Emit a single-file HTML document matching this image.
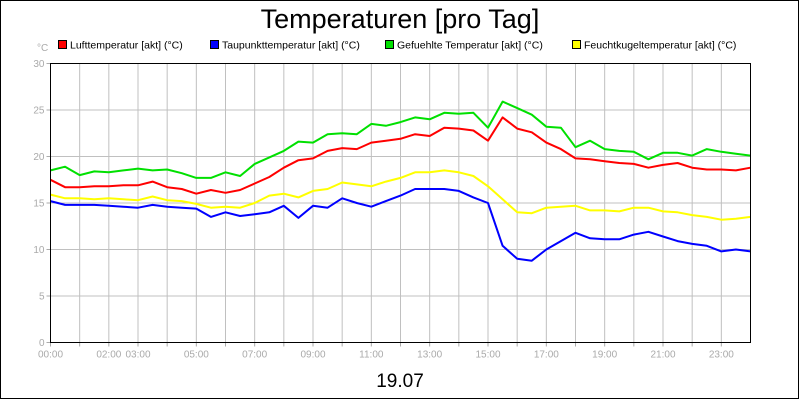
<!DOCTYPE html>
<html><head><meta charset="utf-8"><style>
html,body{margin:0;padding:0;background:#fff}
#wrap{position:relative;width:800px;height:400px;overflow:hidden}
svg text{font-family:"Liberation Sans",sans-serif}
</style></head><body>
<div id="wrap">
<svg id="c" width="800" height="400" xmlns="http://www.w3.org/2000/svg">
<rect x="0.5" y="0.5" width="798" height="398" fill="#fff" stroke="#000"/>
<text x="400" y="28" font-size="27" text-anchor="middle" fill="#000">Temperaturen [pro Tag]</text>
<text x="400" y="387" font-size="19" text-anchor="middle" fill="#000">19.07</text>
<text x="37" y="51" font-size="10" fill="#aaa">°C</text>
<g id="legend"></g>
<g id="grid"></g>
<g id="series"></g>
<g id="axes"></g>
</svg>
</div>
<script>
const hours = [];
for (let i = 0; i <= 48; i++) hours.push(i / 2);
const yTicks = [0, 5, 10, 15, 20, 25, 30];
const xTickLabels = ["00:00","","02:00","03:00","","05:00","","07:00","","09:00","","11:00","","13:00","","15:00","","17:00","","19:00","","21:00","","23:00"];
const seriesNames = ["Lufttemperatur [akt] (°C)","Taupunkttemperatur [akt] (°C)","Gefuehlte Temperatur [akt] (°C)","Feuchtkugeltemperatur [akt] (°C)"];
const seriesColors = ["#ff0000","#0000ff","#00e000","#ffff00"];
const luft = [17.5,16.7,16.7,16.8,16.8,16.9,16.9,17.3,16.7,16.5,16.0,16.4,16.1,16.4,17.1,17.8,18.8,19.6,19.8,20.6,20.9,20.8,21.5,21.7,21.9,22.4,22.2,23.1,23.0,22.8,21.7,24.2,23.0,22.6,21.5,20.8,19.8,19.7,19.5,19.3,19.2,18.8,19.1,19.3,18.8,18.6,18.6,18.5,18.8];
const taupunkt = [15.2,14.8,14.8,14.8,14.7,14.6,14.5,14.8,14.6,14.5,14.4,13.5,14.0,13.6,13.8,14.0,14.7,13.4,14.7,14.5,15.5,15.0,14.6,15.2,15.8,16.5,16.5,16.5,16.3,15.6,15.0,10.4,9.0,8.8,10.0,10.9,11.8,11.2,11.1,11.1,11.6,11.9,11.4,10.9,10.6,10.4,9.8,10.0,9.8];
const gefuehlt = [18.5,18.9,18.0,18.4,18.3,18.5,18.7,18.5,18.6,18.2,17.7,17.7,18.3,17.9,19.2,19.9,20.6,21.6,21.5,22.4,22.5,22.4,23.5,23.3,23.7,24.2,24.0,24.7,24.6,24.7,23.1,25.9,25.2,24.5,23.2,23.1,21.0,21.7,20.8,20.6,20.5,19.7,20.4,20.4,20.1,20.8,20.5,20.3,20.1];
const feucht = [15.9,15.5,15.5,15.4,15.5,15.4,15.3,15.7,15.3,15.2,14.9,14.5,14.6,14.5,15.0,15.8,16.0,15.6,16.3,16.5,17.2,17.0,16.8,17.3,17.7,18.3,18.3,18.5,18.3,17.9,16.8,15.4,14.0,13.9,14.5,14.6,14.7,14.2,14.2,14.1,14.5,14.5,14.1,14.0,13.7,13.5,13.2,13.3,13.5];
const seriesData = [luft, taupunkt, gefuehlt, feucht];

const NS = "http://www.w3.org/2000/svg";
const X0 = 50.5, X1 = 750.5, Y0 = 342.5, Y1 = 63.5;
const xs = h => X0 + (h / 24) * (X1 - X0);
const ys = v => Y0 - (v / 30) * (Y0 - Y1);
function mk(tag, attrs, parent) {
  const e = document.createElementNS(NS, tag);
  for (const k in attrs) e.setAttribute(k, attrs[k]);
  parent.appendChild(e);
  return e;
}
const grid = document.getElementById('grid');
const axes = document.getElementById('axes');
for (let h = 1; h < 24; h++) {
  const l = mk('line', {x1: xs(h), x2: xs(h), y1: Y1, y2: Y0, stroke: '#c0c0c0', 'stroke-width': 1}, grid);
  
  
}
yTicks.forEach(v => {
  if (v > 0 && v < 30) {
    const l = mk('line', {x1: X0, x2: X1, y1: ys(v), y2: ys(v), stroke: '#c0c0c0', 'stroke-width': 1}, grid);
    
    
  }
  const t = mk('line', {x1: X0 - 4, x2: X0, y1: ys(v), y2: ys(v), stroke: '#aaa'}, axes);
  
  
  const tx = mk('text', {x: X0 - 6, y: ys(v) + 3.5, 'font-size': 10, fill: '#aaa', 'text-anchor': 'end'}, axes);
  tx.textContent = v;
  
  
});
xTickLabels.forEach((lab, h) => {
  const t = mk('line', {x1: xs(h), x2: xs(h), y1: Y0, y2: Y0 + 4, stroke: '#aaa'}, axes);
  
  
  if (lab) {
    const tx = mk('text', {x: xs(h), y: Y0 + 15, 'font-size': 10, fill: '#aaa', 'text-anchor': 'middle'}, axes);
    tx.textContent = lab;
    
    
  }
});
const series = document.getElementById('series');
seriesData.forEach((arr, i) => {
  const d = arr.map((v, j) => (j ? 'L' : 'M') + xs(hours[j]).toFixed(1) + ' ' + ys(v).toFixed(1)).join(' ');
  const p = mk('path', {d: d, fill: 'none', stroke: seriesColors[i], 'stroke-width': 2, 'stroke-linejoin': 'round'}, series);
  
  
});
// axes lines
const axL = mk('path', {d: `M${X0} ${Y1} L${X0} ${Y0} L${X1} ${Y0} L${X1} ${Y1} Z`, fill: 'none', stroke: '#000', 'stroke-width': 1}, axes);


// legend
const legend = document.getElementById('legend');
const legX = [58, 210, 385, 572];
seriesNames.forEach((n, i) => {
  const r = mk('rect', {x: legX[i] + 0.5, y: 40.5, width: 8, height: 8, fill: seriesColors[i], stroke: '#000'}, legend);
  
  
  const t = mk('text', {x: legX[i] + 12, y: 48.5, 'font-size': 10.5, fill: '#000'}, legend);
  t.textContent = n;
  
  
});
</script>
</body></html>
